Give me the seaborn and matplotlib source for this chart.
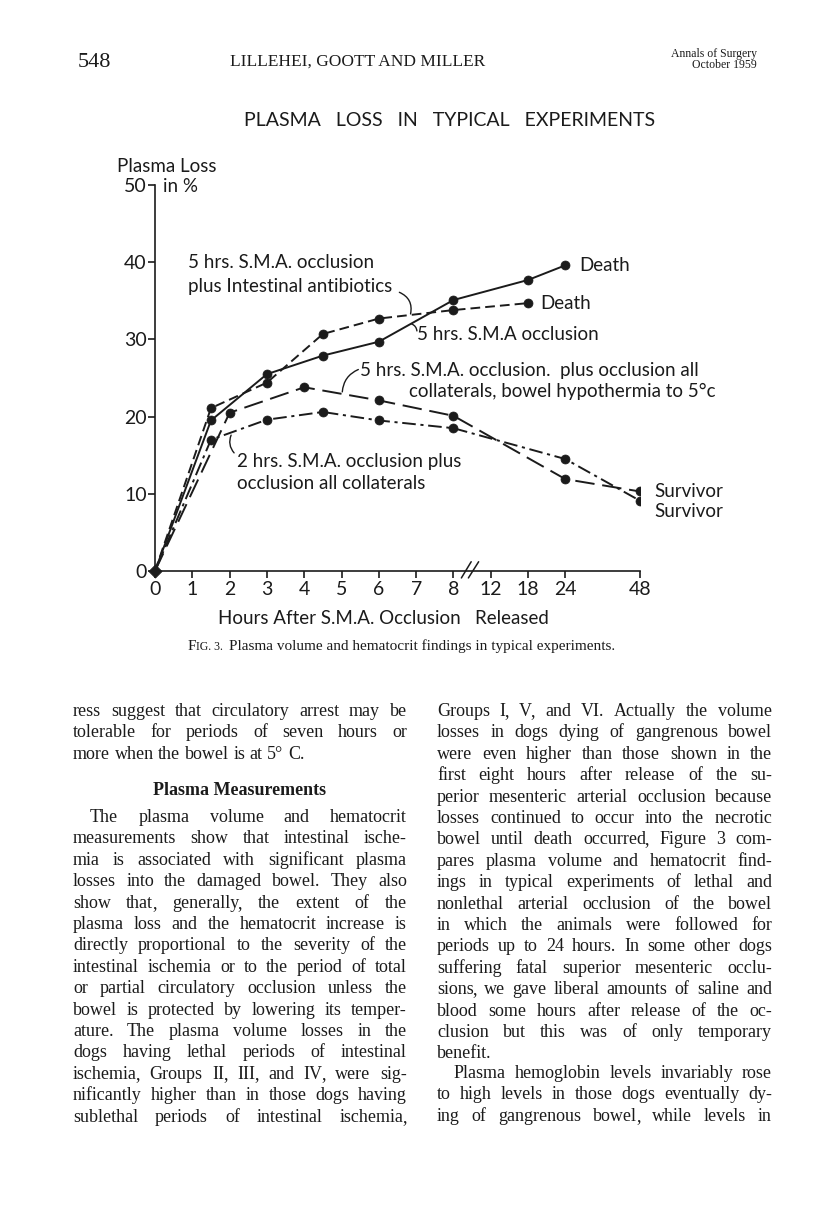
import numpy as np
import pandas as pd
import seaborn as sns
import matplotlib.pyplot as plt

# Plasma loss (%) vs hours after release
sma5_hours = [0, 1.5, 3, 4.5, 6, 8, 18, 24]
sma5_loss = [0, 19.5, 25.5, 27.9, 29.7, 35.1, 37.7, 39.6]

abx_hours = [0, 1.5, 3, 4.5, 6, 8, 18]
abx_loss = [0, 21.1, 24.4, 30.7, 32.7, 33.8, 34.7]

hypo_hours = [0, 2, 4, 6, 8, 24, 48]
hypo_loss = [0, 20.5, 23.8, 22.1, 20.1, 11.9, 10.3]

sma2_hours = [0, 1.5, 3, 4.5, 6, 8, 24, 48]
sma2_loss = [0, 17.0, 19.6, 20.6, 19.5, 18.5, 14.5, 9.1]

x_ticks = [0, 1, 2, 3, 4, 5, 6, 7, 8, 12, 18, 24, 48]
y_ticks = [0, 10, 20, 30, 40, 50]

# page text
left_col = [
    "ress suggest that circulatory arrest may be",
    "tolerable for periods of seven hours or",
    "more when the bowel is at 5° C.",
]
left_col2 = [
    "The plasma volume and hematocrit",
    "measurements show that intestinal ische-",
    "mia is associated with significant plasma",
    "losses into the damaged bowel. They also",
    "show that, generally, the extent of the",
    "plasma loss and the hematocrit increase is",
    "directly proportional to the severity of the",
    "intestinal ischemia or to the period of total",
    "or partial circulatory occlusion unless the",
    "bowel is protected by lowering its temper-",
    "ature. The plasma volume losses in the",
    "dogs having lethal periods of intestinal",
    "ischemia, Groups II, III, and IV, were sig-",
    "nificantly higher than in those dogs having",
    "sublethal periods of intestinal ischemia,",
]
right_col = [
    "Groups I, V, and VI. Actually the volume",
    "losses in dogs dying of gangrenous bowel",
    "were even higher than those shown in the",
    "first eight hours after release of the su-",
    "perior mesenteric arterial occlusion because",
    "losses continued to occur into the necrotic",
    "bowel until death occurred, Figure 3 com-",
    "pares plasma volume and hematocrit find-",
    "ings in typical experiments of lethal and",
    "nonlethal arterial occlusion of the bowel",
    "in which the animals were followed for",
    "periods up to 24 hours. In some other dogs",
    "suffering fatal superior mesenteric occlu-",
    "sions, we gave liberal amounts of saline and",
    "blood some hours after release of the oc-",
    "clusion but this was of only temporary",
    "benefit.",
]
right_col2 = [
    "Plasma hemoglobin levels invariably rose",
    "to high levels in those dogs eventually dy-",
    "ing of gangrenous bowel, while levels in",
]

sns.set_style("ticks")
plt.rcParams["font.family"] = ["Lato", "DejaVu Sans"]
ink = "#1b1b1b"

W, H = 816, 1212
fig = plt.figure(figsize=(W / 100, H / 100), dpi=100)
fig.patch.set_facecolor("white")


def put(x, y, s, **kw):
    return fig.text(x / W, 1 - y / H, s, color=ink, **kw)


# ---- chart ----
ax = fig.add_axes([155 / W, 1 - 571 / H, (640 - 155) / W, (571 - 185) / H])
brk_h = [0, 8, 12, 18, 24, 48]
brk_p = [0, 8, 9, 10, 11, 13]
ax.set_xscale("function", functions=(lambda h: np.interp(h, brk_h, brk_p),
                                     lambda p: np.interp(p, brk_p, brk_h)))

frames = []
for name, h, l in [("sma5", sma5_hours, sma5_loss), ("abx", abx_hours, abx_loss),
                   ("hypo", hypo_hours, hypo_loss), ("sma2", sma2_hours, sma2_loss)]:
    frames.append(pd.DataFrame({"hours": h, "loss": l, "series": name}))
df = pd.concat(frames, ignore_index=True)

dash_map = {"sma5": "", "abx": (5, 2.6), "hypo": (10, 4), "sma2": (7, 2.4, 1.6, 2.4)}
sns.lineplot(data=df, x="hours", y="loss", style="series", dashes=dash_map,
             color=ink, lw=1.4, estimator=None, sort=False, legend=False, ax=ax)
sns.scatterplot(data=df[df.hours > 0], x="hours", y="loss", color=ink, s=42,
                edgecolor=ink, linewidth=0.5, legend=False, zorder=3, ax=ax)
sns.scatterplot(data=df[df.hours == 0].head(1), x="hours", y="loss", marker="D",
                color=ink, s=45, edgecolor=ink, legend=False, zorder=3,
                clip_on=False, ax=ax)

ax.set_xlim(0, 48)
ax.set_ylim(0, 50)
ax.set_xticks(x_ticks)
ax.set_xticklabels([str(t) for t in x_ticks])
ax.set_yticks(y_ticks)
ax.minorticks_off()
ax.set_xlabel("")
ax.set_ylabel("")
for s in ["top", "right"]:
    ax.spines[s].set_visible(False)
for s in ["left", "bottom"]:
    ax.spines[s].set_linewidth(1.2)
    ax.spines[s].set_color(ink)
ax.tick_params(direction="out", length=5, width=1.2, colors=ink, labelsize=14, pad=2)
ax.tick_params(axis="y", pad=1)

# axis break marks
xt = ax.get_xaxis_transform()
for x0, x1 in [(8.85, 9.9), (9.6, 10.7)]:
    ax.plot([x0, x1], [-0.018, 0.024], color=ink, lw=1.1, transform=xt, clip_on=False)

lab = dict(fontsize=13.5, color=ink, va="center")
ax.text(0.88, 40.0, "5 hrs. S.M.A. occlusion", **lab)
ax.text(0.88, 36.8, "plus Intestinal antibiotics", **lab)
ax.text(7.02, 30.6, "5 hrs. S.M.A occlusion", **lab)
ax.text(5.5, 26.0, "5 hrs. S.M.A. occlusion.  plus occlusion all", **lab)
ax.text(6.8, 23.2, "collaterals, bowel hypothermia to 5°c", **lab)
ax.text(2.2, 14.2, "2 hrs. S.M.A. occlusion plus", **lab)
ax.text(2.2, 11.3, "occlusion all collaterals", **lab)

ax.annotate("Death", xy=(sma5_hours[-1], sma5_loss[-1]), xytext=(10, 0),
            textcoords="offset points", **lab)
ax.annotate("Death", xy=(abx_hours[-1], abx_loss[-1]), xytext=(9, 0),
            textcoords="offset points", **lab)
ax.annotate("Survivor", xy=(hypo_hours[-1], hypo_loss[-1]), xytext=(10, 0),
            textcoords="offset points", annotation_clip=False, **lab)
ax.annotate("Survivor", xy=(sma2_hours[-1], sma2_loss[-1]), xytext=(10, -8),
            textcoords="offset points", annotation_clip=False, **lab)

lead = dict(arrowstyle="-", lw=1.0, color=ink, shrinkA=0, shrinkB=0)
ax.annotate("", xy=(6.85, 33.3), xytext=(6.55, 36.1),
            arrowprops=dict(connectionstyle="arc3,rad=-0.4", **lead))
ax.annotate("", xy=(6.88, 32.0), xytext=(7.02, 31.1),
            arrowprops=dict(connectionstyle="arc3,rad=0.3", **lead))
ax.annotate("", xy=(5.02, 23.2), xytext=(5.45, 26.1),
            arrowprops=dict(connectionstyle="arc3,rad=0.3", **lead))
ax.annotate("", xy=(2.04, 17.6), xytext=(2.12, 15.3),
            arrowprops=dict(connectionstyle="arc3,rad=-0.3", **lead))

put(167, 167, "Plasma Loss", fontsize=13.5, ha="center", va="center")
put(163, 186, "in %", fontsize=13.5, ha="left", va="center")
put(383, 619, "Hours After S.M.A. Occlusion   Released", fontsize=13.5,
    ha="center", va="center")
put(450, 121, "PLASMA   LOSS   IN   TYPICAL   EXPERIMENTS", fontsize=14,
    ha="center", va="center")

# ---- page text ----
serif = dict(family="Liberation Serif")
put(78, 67, "548", fontsize=16, ha="left", va="baseline", **serif)
put(358, 66, "LILLEHEI, GOOTT AND MILLER", fontsize=12.5, ha="center",
    va="baseline", **serif)
put(757, 57, "Annals of Surgery", fontsize=8.5, ha="right", va="baseline", **serif)
put(757, 68, "October 1959", fontsize=8.5, ha="right", va="baseline", **serif)

put(188, 650, "F", fontsize=11, ha="left", va="baseline", **serif)
put(196, 650, "IG. 3.", fontsize=8.5, ha="left", va="baseline", **serif)
put(229, 650, "Plasma volume and hematocrit findings in typical experiments.",
    fontsize=11, ha="left", va="baseline", **serif)

rend = fig.canvas.get_renderer()
body = dict(ha="left", va="baseline", **serif)


def word_parts(w):
    # a trailing comma is drawn on its own so the word keeps the line's baseline
    if len(w) > 1 and w.endswith(","):
        return [w[:-1], ","]
    return [w]


def line_out(s, x0, x1, y, indent=0, last=False, size=13):
    words = s.split(" ")
    while True:
        groups = [[put(0, y, p, fontsize=size, **body) for p in word_parts(w)]
                  for w in words]
        gws = [[t.get_window_extent(rend).width - (1.2 if len(g) > 1 and k == 0 else 0)
                for k, t in enumerate(g)] for g in groups]
        total = sum(sum(g) for g in gws)
        if last or len(words) < 2:
            gap = 4.5
            break
        gap = (x1 - x0 - indent - total) / (len(words) - 1)
        if gap >= 3.5:
            break
        for g in groups:
            for t in g:
                t.remove()
        size -= 0.25
    x = x0 + indent
    for g, ws in zip(groups, gws):
        for t, w in zip(g, ws):
            t.set_x(x / W)
            x += w
        x += gap


step = 21.4
lx0, lx1, rx0, rx1 = 73, 407, 437, 772
for i, s in enumerate(left_col):
    line_out(s, lx0, lx1, 716 + i * step, last=(i == len(left_col) - 1))
put((lx0 + lx1) / 2, 795, "Plasma Measurements", fontsize=13, ha="center",
    va="baseline", fontweight="bold", **serif)
for i, s in enumerate(left_col2):
    line_out(s, lx0, lx1, 822 + i * step, indent=(17 if i == 0 else 0))
for i, s in enumerate(right_col):
    line_out(s, rx0, rx1, 716 + i * step, last=(i == len(right_col) - 1))
for i, s in enumerate(right_col2):
    line_out(s, rx0, rx1, 1078 + i * step, indent=(17 if i == 0 else 0))

fig.savefig("out.png", dpi=100, facecolor="white")
